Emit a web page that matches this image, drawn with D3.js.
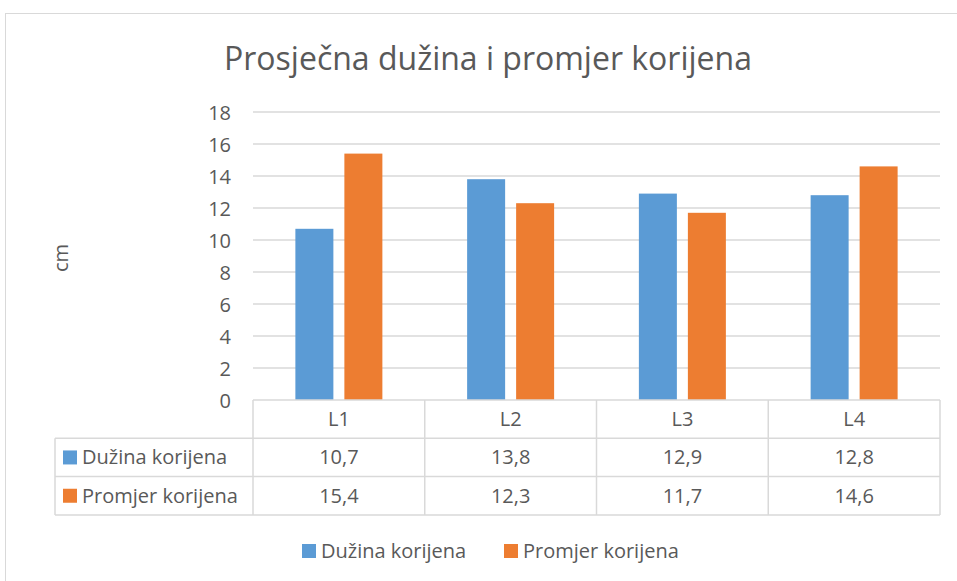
<!DOCTYPE html>
<html>
<head>
<meta charset="utf-8">
<script src="https://cdn.jsdelivr.net/npm/d3@7/dist/d3.min.js"></script>
<style>
  html, body { margin: 0; padding: 0; background: #fff; }
  svg { display: block; }
  text { font-family: "Open Sans", "Noto Sans", sans-serif; fill: #595959; }
</style>
</head>
<body>
<div id="chart"></div>
<script>
// Prosječna dužina i promjer korijena — grouped bars with a data table underneath

var categories = ['L1', 'L2', 'L3', 'L4'];
var seriesNames = ['Dužina korijena', 'Promjer korijena'];
var duzina = [10.7, 13.8, 12.9, 12.8];
var promjer = [15.4, 12.3, 11.7, 14.6];
var yTicks = [0, 2, 4, 6, 8, 10, 12, 14, 16, 18];
var COLORS = ['#5B9BD5', '#ED7D31'];

var W = 957, H = 581;
var plot = { left: 253, right: 940, top: 112, bottom: 400 };
var tableLeft = 55, rowH = 38.3;
var FS = '20px';

var svg = d3.select('#chart').append('svg')
  .attr('width', W).attr('height', H);

// outer chart border
svg.append('rect')
  .attr('x', 5.5).attr('y', 13.5)
  .attr('width', W).attr('height', H)
  .attr('fill', '#fff').attr('stroke', '#d9d9d9').attr('stroke-width', 1);

svg.append('text')
  .attr('x', 488).attr('y', 70)
  .attr('text-anchor', 'middle')
  .style('font-size', '32px')
  .text('Prosječna dužina i promjer korijena');

var y = d3.scaleLinear().domain([0, 18]).range([plot.bottom, plot.top]);
var x = d3.scaleBand().domain(categories).range([plot.left, plot.right]);
var xs = d3.scaleBand().domain(seriesNames).range([0, x.bandwidth()])
  .paddingInner(0.2245).paddingOuter(0.865);

// gridlines
svg.append('g').selectAll('line')
  .data(yTicks.filter(function (d) { return d > 0; }))
  .join('line')
  .attr('x1', plot.left).attr('x2', plot.right)
  .attr('y1', function (d) { return y(d); })
  .attr('y2', function (d) { return y(d); })
  .attr('stroke', '#d9d9d9').attr('stroke-width', 1.5);

// y axis labels only (Excel style, no axis line)
var yAxis = d3.axisLeft(y).tickValues(yTicks).tickSize(0).tickPadding(0);
var gy = svg.append('g').attr('transform', 'translate(231,0)').call(yAxis);
gy.select('.domain').remove();
gy.selectAll('text')
  .attr('dy', '0.35em')
  .style('font-size', FS)
  .style('font-family', '"Open Sans", "Noto Sans", sans-serif')
  .attr('fill', '#595959');

svg.append('text')
  .attr('transform', 'translate(61,258) rotate(-90)')
  .attr('text-anchor', 'middle')
  .attr('dy', '0.35em')
  .style('font-size', FS)
  .text('cm');

// bars
var values = [duzina, promjer];
seriesNames.forEach(function (name, si) {
  svg.append('g').selectAll('rect')
    .data(values[si])
    .join('rect')
    .attr('x', function (d, i) { return x(categories[i]) + xs(name); })
    .attr('width', xs.bandwidth())
    .attr('y', function (d) { return y(d); })
    .attr('height', function (d) { return y(0) - y(d); })
    .attr('fill', COLORS[si]);
});

// data table
var tbl = svg.append('g')
  .attr('fill', 'none').attr('stroke', '#d9d9d9').attr('stroke-width', 1.5);
var rowY = [plot.bottom, plot.bottom + rowH, plot.bottom + 2 * rowH, plot.bottom + 3 * rowH];

// horizontal lines
tbl.append('line').attr('x1', plot.left).attr('x2', plot.right)
  .attr('y1', rowY[0]).attr('y2', rowY[0]);
[1, 2, 3].forEach(function (r) {
  tbl.append('line').attr('x1', tableLeft).attr('x2', plot.right)
    .attr('y1', rowY[r]).attr('y2', rowY[r]);
});
// vertical lines
tbl.append('line').attr('x1', tableLeft).attr('x2', tableLeft)
  .attr('y1', rowY[1]).attr('y2', rowY[3]);
categories.concat(['_end']).forEach(function (c, i) {
  var xx = i < categories.length ? x(c) : plot.right;
  tbl.append('line').attr('x1', xx).attr('x2', xx)
    .attr('y1', rowY[0]).attr('y2', rowY[3]);
});

// header row
svg.append('g').selectAll('text')
  .data(categories)
  .join('text')
  .attr('x', function (d) { return x(d) + x.bandwidth() / 2; })
  .attr('y', rowY[0] + rowH / 2)
  .attr('dy', '0.35em')
  .attr('text-anchor', 'middle')
  .style('font-size', FS)
  .text(function (d) { return d; });

// value rows
var fmt = function (v) { return d3.format('.1f')(v).replace('.', ','); };
seriesNames.forEach(function (name, si) {
  var cy = rowY[si + 1] + rowH / 2;
  svg.append('rect')
    .attr('x', 63).attr('y', cy - 7)
    .attr('width', 14).attr('height', 14)
    .attr('fill', COLORS[si]);
  svg.append('text')
    .attr('x', 82).attr('y', cy).attr('dy', '0.35em')
    .style('font-size', FS)
    .text(name);
  svg.append('g').selectAll('text')
    .data(values[si])
    .join('text')
    .attr('x', function (d, i) { return x(categories[i]) + x.bandwidth() / 2; })
    .attr('y', cy).attr('dy', '0.35em')
    .attr('text-anchor', 'middle')
    .style('font-size', FS)
    .text(fmt);
});

// legend
var legendX = [302, 504];
seriesNames.forEach(function (name, si) {
  svg.append('rect')
    .attr('x', legendX[si]).attr('y', 544)
    .attr('width', 14).attr('height', 14)
    .attr('fill', COLORS[si]);
  svg.append('text')
    .attr('x', legendX[si] + 19).attr('y', 551).attr('dy', '0.35em')
    .style('font-size', FS)
    .text(name);
});
</script>
</body>
</html>
